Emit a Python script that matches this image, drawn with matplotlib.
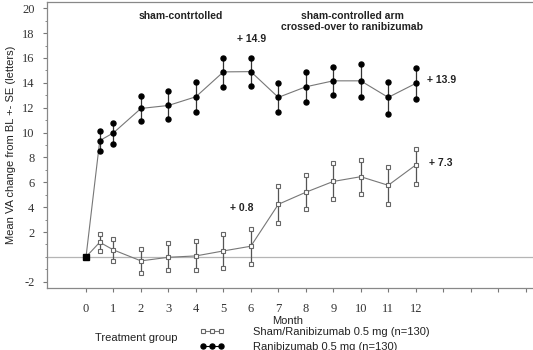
import matplotlib
matplotlib.use('Agg')
import matplotlib.pyplot as plt
from matplotlib.lines import Line2D

# data
months = [0, 0.5, 1, 2, 3, 4, 5, 6, 7, 8, 9, 10, 11, 12]
rbz_mean = [0, 9.35, 9.98, 11.94, 12.18, 12.88, 14.88, 14.9, 12.83, 13.68, 14.16, 14.16, 12.83, 13.95]
rbz_low = [0, 8.55, 9.1, 10.95, 11.06, 11.65, 13.68, 13.73, 11.65, 12.47, 13.0, 12.83, 11.5, 12.7]
rbz_high = [0, 10.15, 10.76, 12.96, 13.33, 14.1, 16.0, 16.0, 14.0, 14.9, 15.29, 15.5, 14.1, 15.18]
sham_mean = [0, 1.18, 0.56, -0.32, -0.03, 0.08, 0.48, 0.86, 4.23, 5.2, 6.07, 6.45, 5.76, 7.39]
sham_low = [0, 0.5, -0.32, -1.29, -1.04, -1.04, -0.86, -0.56, 2.75, 3.86, 4.66, 5.06, 4.28, 5.89]
sham_high = [0, 1.82, 1.42, 0.62, 1.1, 1.31, 1.82, 2.25, 5.68, 6.56, 7.52, 7.79, 7.25, 8.67]

sans = 'Liberation Sans'
serif = 'Liberation Serif'

fig = plt.figure(figsize=(5.33, 3.5), dpi=100)
ax = fig.add_axes([47/533, 1-288/350, 1-47/533, 286/350])

ax.axhline(0, color='#b5b5b5', lw=0.9, zorder=0)

sq = dict(marker='s', ms=3.3, mfc='white', mec='#666666', mew=0.8, ls='none', zorder=3)
dot = dict(marker='o', ms=3.6, color='black', ls='none', zorder=3)

# sham arm
ax.plot(months, sham_mean, color='#777777', lw=0.8, zorder=2)
ax.vlines(months[1:], sham_low[1:], sham_high[1:], color='#555555', lw=0.9, zorder=2)
ax.plot(months[1:], sham_mean[1:], **sq)
ax.plot(months[1:], sham_low[1:], **sq)
ax.plot(months[1:], sham_high[1:], **sq)

# ranibizumab arm
ax.plot(months, rbz_mean, color='#777777', lw=0.8, zorder=2)
ax.vlines(months[1:], rbz_low[1:], rbz_high[1:], color='#333333', lw=0.9, zorder=2)
ax.plot(months[1:], rbz_mean[1:], **dot)
ax.plot(months[1:], rbz_low[1:], **dot)
ax.plot(months[1:], rbz_high[1:], **dot)

# baseline
ax.plot([months[0]], [rbz_mean[0]], 's', ms=4.3, color='black', zorder=4)

ax.set_xlim(-1.42, 16.27)
ax.set_ylim(-2.5, 20.5)
ax.set_xticks(range(0, 17))
ax.set_xticklabels([str(i) if i <= 12 else '' for i in range(0, 17)], family=serif, fontsize=9, color='#333333')
ax.set_yticks([-2, 2, 4, 6, 8, 10, 12, 14, 16, 18, 20])
ax.set_yticklabels(['-2', '2', '4', '6', '8', '10', '12', '14', '16', '18', '20'], family=serif, fontsize=9,
                   color='#333333')
ax.set_yticks(range(-2, 21), minor=True)
ax.tick_params(axis='y', which='major', length=3, color='#777777', pad=6)
ax.tick_params(axis='y', which='minor', length=1.5, color='#777777')
ax.tick_params(axis='x', length=3, color='#777777', pad=8)
for s in ['left', 'bottom', 'top']:
    ax.spines[s].set_color('#888888')
    ax.spines[s].set_linewidth(0.9)
ax.spines['right'].set_visible(False)

ax.set_ylabel('Mean VA change from BL +- SE (letters)', family=sans, fontsize=8, labelpad=4, color='#222222')

bold = dict(family=sans, fontsize=7.5, fontweight='bold', color='#222222')
ax.text(3.46, 19.4, 'sham-contrtolled', ha='center', va='center', **bold)
ax.text(9.68, 18.9, 'sham-controlled arm\ncrossed-over to ranibizumab', ha='center', va='center',
        linespacing=1.15, **bold)
ax.text(5.5, 17.5, '+ 14.9', ha='left', va='center', **bold)
ax.text(12.4, 14.2, '+ 13.9', ha='left', va='center', **bold)
ax.text(12.5, 7.55, '+ 7.3', ha='left', va='center', **bold)
ax.text(5.24, 3.9, '+ 0.8', ha='left', va='center', **bold)

fig.text(288/533, 1-321/350, 'Month', family=sans, fontsize=8, ha='center', va='center', color='#222222')
fig.text(95/533, 1-338/350, 'Treatment group', family=sans, fontsize=8, ha='left', va='center', color='#222222')

h_sham = Line2D([], [], color='#777777', lw=0.8, marker='s', ms=3.3, mfc='white', mec='#666666', mew=0.8)
h_rbz = Line2D([], [], color='black', lw=0.8, marker='o', ms=3.6)
fig.legend([h_sham, h_rbz], ['Sham/Ranibizumab 0.5 mg (n=130)', 'Ranibizumab 0.5 mg (n=130)'],
           loc='upper left', bbox_to_anchor=(200/533, 1-327/350), frameon=False, numpoints=3,
           handlelength=2.2, handletextpad=2.6, labelspacing=0.45, borderaxespad=0, borderpad=0,
           prop={'family': sans, 'size': 8}, labelcolor='#222222')

fig.savefig('out.png', dpi=100)
